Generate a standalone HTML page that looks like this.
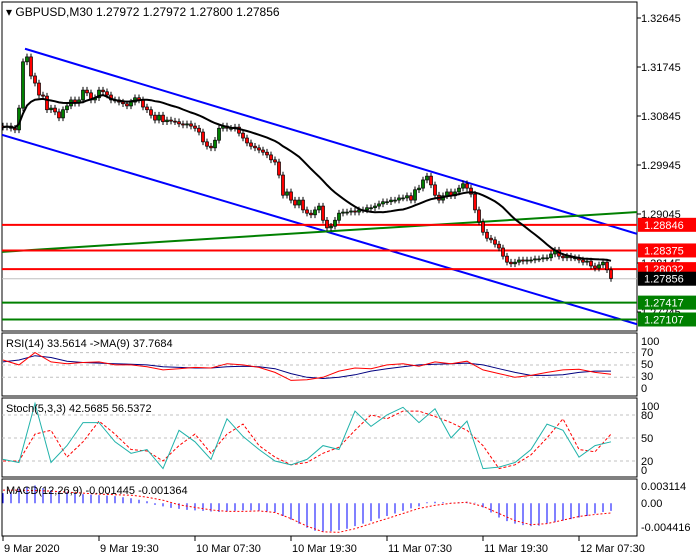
<!DOCTYPE html>
<html><head><meta charset="utf-8"><style>
body{margin:0;background:#fff;}
svg{display:block;font-family:"Liberation Sans",sans-serif;}
</style></head><body>
<svg id="c" width="700" height="560" viewBox="0 0 700 560">
<rect x="0" y="0" width="700" height="560" fill="#fff"/>
</svg>
<script>
const closes=[1.3064,1.3066,1.3062,1.3059,1.3099,1.3184,1.3193,1.3158,1.3145,1.3123,1.3121,1.3096,1.3099,1.3092,1.3081,1.3096,1.3103,1.3114,1.3108,1.3114,1.3132,1.3127,1.3114,1.3118,1.3132,1.3129,1.3123,1.3114,1.3114,1.3110,1.3107,1.3103,1.3110,1.3118,1.3114,1.3101,1.3096,1.3086,1.3077,1.3086,1.3074,1.3077,1.3075,1.3074,1.3070,1.3068,1.3070,1.3066,1.3062,1.3055,1.3037,1.3029,1.3026,1.3040,1.3062,1.3066,1.3062,1.3062,1.3064,1.3053,1.3044,1.3035,1.3029,1.3026,1.3022,1.3018,1.3013,1.3004,1.3000,1.2976,1.2939,1.2945,1.2930,1.2921,1.2930,1.2912,1.2906,1.2903,1.2912,1.2919,1.2893,1.2879,1.2882,1.2893,1.2906,1.2908,1.2908,1.2910,1.2908,1.2912,1.2912,1.2916,1.2916,1.2919,1.2923,1.2927,1.2927,1.2930,1.2930,1.2934,1.2934,1.2938,1.2930,1.2949,1.2952,1.2967,1.2974,1.2958,1.2939,1.2930,1.2938,1.2945,1.2938,1.2945,1.2952,1.2960,1.2952,1.2941,1.2912,1.2890,1.2871,1.2860,1.2857,1.2849,1.2842,1.2827,1.2816,1.2813,1.2816,1.2820,1.2818,1.2820,1.2820,1.2822,1.2822,1.2824,1.2824,1.2831,1.2838,1.2827,1.2824,1.2827,1.2824,1.2824,1.2820,1.2816,1.2818,1.2809,1.2805,1.2811,1.2816,1.2802,1.2786];
const firstOpen=1.3066;
const priceTicks=[1.32645,1.31745,1.30845,1.29945,1.29045,1.28145,1.27245];
const redLevels=[1.28846,1.28375,1.28032];
const greenLevels=[1.27417,1.27107];
const lastPrice=1.27856;
const upperChannel=[1.3208,1.2868];
const lowerChannel=[1.3050,1.2702];
const greenTrend=[1.2835,1.2908];
const timeLabels=["9 Mar 2020","9 Mar 19:30","10 Mar 07:30","10 Mar 19:30","11 Mar 07:30","11 Mar 19:30","12 Mar 07:30"];
const rsi=[58,50,70,55,52,54,55,50,50,47,42,44,46,45,52,50,46,38,25,26,30,40,45,44,50,52,48,55,52,56,42,36,30,33,38,42,43,38,35];
const rsiMa=[55,58,65,62,56,54,53,52,51,50,47,46,45,45,47,48,47,44,36,30,28,30,34,40,44,47,50,51,52,53,50,44,38,33,33,34,38,40,40];
const stochMain=[22,18,95,18,40,70,70,45,30,35,10,60,45,22,75,52,35,20,15,22,40,35,85,65,80,90,70,88,50,72,10,12,18,35,68,60,25,40,45];
const stochSig=[20,20,55,60,25,45,72,55,35,33,20,40,55,30,55,68,40,25,15,18,30,38,60,80,75,85,85,78,70,60,40,10,15,28,50,75,35,32,55];
const macdHist=[2.0,2.2,2.8,3.2,3.5,3.0,2.6,2.4,2.2,2.0,1.8,1.7,1.6,1.5,1.4,1.2,1.0,0.7,0.4,-0.3,-0.6,-0.9,-1.1,-1.3,-1.4,-1.5,-1.6,-1.7,-1.6,-1.5,-1.4,-1.4,-1.5,-1.6,-1.8,-2.5,-3.2,-4.0,-4.8,-5.4,-5.6,-5.5,-5.3,-5.0,-4.5,-4.0,-3.5,-3.0,-2.5,-2.0,-1.5,-1.0,-0.6,0.2,0.3,0.2,0.1,0.2,0.3,0.1,-0.8,-1.8,-2.8,-3.5,-4.0,-4.3,-4.5,-4.4,-4.0,-3.7,-3.4,-3.1,-2.8,-2.5,-2.0,-1.7,-1.5];
const macdSig=[2.6,2.6,2.5,2.4,2.2,2.0,1.8,1.7,1.6,1.2,0.6,-0.3,-0.8,-1.3,-1.6,-1.6,-1.5,-1.8,-3.0,-4.5,-5.6,-5.7,-5.0,-4.0,-3.0,-2.0,-1.0,-0.4,0.0,0.2,-0.6,-2.0,-3.4,-4.2,-4.0,-3.3,-2.6,-2.2,-1.9];

const svg=document.getElementById('c');
const NS='http://www.w3.org/2000/svg';
function mk(tag,attrs,parent){const e=document.createElementNS(NS,tag);for(const k in attrs)e.setAttribute(k,attrs[k]);(parent||svg).appendChild(e);return e;}
const L=2,R=637;
const yP=p=>18+(1.32645-p)*5444;
const xC=i=>3+i*4;
const yR=v=>395.8-v*0.617;
const yS=v=>476.3-v*0.767;
const yM=v=>503.3-v*5.086;
const xS=i=>3+i*16;
const xH=i=>3+i*8;

[[2,2,331],[2,333,396],[2,398,477],[2,479,536]].forEach((f,k)=>{
 const r=mk('rect',{x:L,y:f[1],width:R-L,height:f[2]-f[1],fill:'none',stroke:'#000','stroke-width':1});
 
 
});
const defs=mk('defs',{});const cp=mk('clipPath',{id:'mc'},defs);mk('rect',{x:L,y:3,width:R-L,height:327},cp);
const g=mk('g',{'clip-path':'url(#mc)'});



let e=mk('line',{x1:L,x2:R,y1:yP(lastPrice),y2:yP(lastPrice),stroke:'#c0c0c0','stroke-width':1},g);


function tl(a,b,x1,x2,col,name){const l=mk('line',{x1:x1,x2:x2,y1:yP(a),y2:yP(b),stroke:col,'stroke-width':2},g);
 
 }
tl(upperChannel[0],upperChannel[1],25,R,'#0000ff','upper-channel-line');
tl(lowerChannel[0],lowerChannel[1],L,R,'#0000ff','lower-channel-line');
tl(greenTrend[0],greenTrend[1],L,R,'#008000','green-trend-line');
redLevels.forEach(p=>{const l=mk('line',{x1:L,x2:R,y1:yP(p),y2:yP(p),stroke:'#ff0000','stroke-width':2},g);
 
 });
greenLevels.forEach(p=>{const l=mk('line',{x1:L,x2:R,y1:yP(p),y2:yP(p),stroke:'#008000','stroke-width':2},g);
 
 });

closes.forEach((c,i)=>{
 const o=i?closes[i-1]:firstOpen;
 const hi=Math.max(o,c)+0.0006,lo=Math.min(o,c)-0.0006;
 const x=xC(i);
 const w=mk('line',{x1:x,x2:x,y1:yP(hi),y2:yP(lo),stroke:'#000','stroke-width':1},g);
 
 
 const t=yP(Math.max(o,c)),b=yP(Math.min(o,c));
 const r=mk('rect',{x:x-1.5,y:t,width:3,height:Math.max(1,b-t),fill:c>=o?'#008000':'#ff0000',stroke:'#000','stroke-width':0.7},g);
 
 
});
let pts=[];closes.forEach((c,i)=>{const s=closes.slice(Math.max(0,i-20),i+1);const m=s.reduce((a,b)=>a+b,0)/s.length;pts.push(xC(i)+','+yP(m).toFixed(1));});
e=mk('polyline',{points:pts.join(' '),fill:'none',stroke:'#000','stroke-width':2},g);



priceTicks.forEach(p=>{const y=yP(p);mk('line',{x1:R,x2:R+4,y1:y,y2:y,stroke:'#000'});
 const t=mk('text',{x:641,y:y+4,'font-size':11,fill:'#000'});t.textContent=p.toFixed(5);
 
 });
function box(p,col,name){const y=yP(p);const r=mk('rect',{x:638,y:y-7,width:58,height:14,fill:col});
 
 
 const t=mk('text',{x:644,y:y+4,'font-size':11,fill:'#fff'});t.textContent=p.toFixed(5);
 
 }
redLevels.forEach(p=>box(p,'#ff0000','resistance-price-box'));
box(lastPrice,'#000','last-price-box');
greenLevels.forEach(p=>box(p,'#008000','support-price-box'));

e=mk('text',{x:6,y:16,'font-size':12,fill:'#000'});e.textContent='▾ GBPUSD,M30  1.27972 1.27972 1.27800 1.27856';



function dashLine(y,name){const l=mk('line',{x1:L,x2:R,y1:y,y2:y,stroke:'#c0c0c0','stroke-dasharray':'3,3'});
 
 }
function poly(arr,fx,fy,col,dash,name){const p=mk('polyline',{points:arr.map((v,i)=>fx(i)+','+fy(v).toFixed(1)).join(' '),fill:'none',stroke:col,'stroke-width':1});
 if(dash)p.setAttribute('stroke-dasharray',dash);
 
 }
function lab(txt,x,y,name){const t=mk('text',{x:x,y:y,'font-size':11,fill:'#000'});t.textContent=txt;
 
 }

[70,50,30].forEach(v=>dashLine(yR(v),'rsi-level-line'));
poly(rsiMa,xS,yR,'#000080',null,'rsi-ma-line');
poly(rsi,xS,yR,'#ff0000',null,'rsi-line');
lab('RSI(14) 33.5614  ->MA(9) 37.7684',6,347,'rsi-title');
[['100',345],['70',356],['50',368],['30',380],['0',392]].forEach(a=>lab(a[0],641,a[1],'rsi-axis-label'));

[80,50,20].forEach(v=>dashLine(yS(v),'stoch-level-line'));
poly(stochSig,xS,yS,'#ff0000','3,2','stoch-signal-line');
poly(stochMain,xS,yS,'#20b2aa',null,'stoch-main-line');
lab('Stoch(5,3,3) 42.5685 56.5372',6,412,'stoch-title');
[['100',410],['80',419],['50',442],['20',465],['0',474]].forEach(a=>lab(a[0],641,a[1],'stoch-axis-label'));

macdHist.forEach((v,i)=>{const x=xH(i);const l=mk('line',{x1:x,x2:x,y1:yM(0),y2:yM(v),stroke:'#0000ff','stroke-width':1});
 
 });
poly(macdSig,xS,yM,'#ff0000','2,2','macd-signal-line');
lab('MACD(12,26,9) -0.001445 -0.001364',6,494,'macd-title');
[['0.003114',490],['0.00',507],['-0.004416',531]].forEach(a=>lab(a[0],641,a[1],'macd-axis-label'));

timeLabels.forEach((s,i)=>{const x=3+i*96;mk('line',{x1:x,x2:x,y1:536,y2:541,stroke:'#000'});
 lab(s,x+1,552,'time-axis-label');});
</script>
</body></html>
